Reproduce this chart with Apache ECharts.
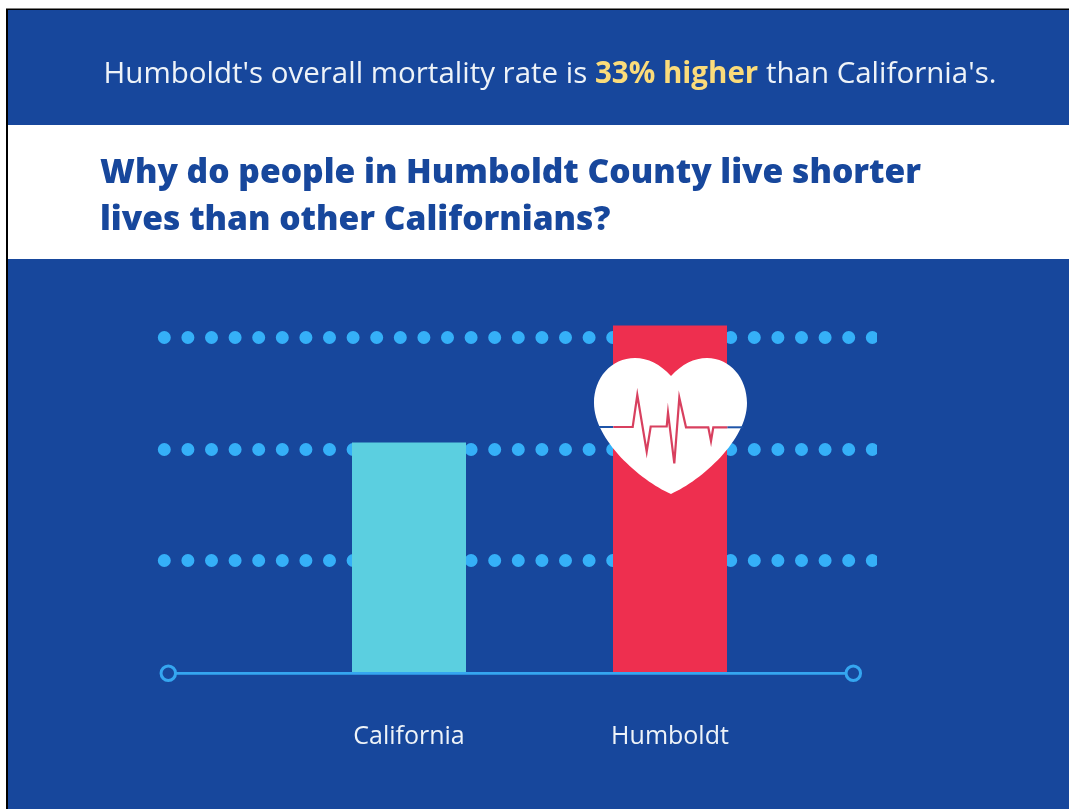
<!DOCTYPE html>
<html>
<head>
<meta charset="utf-8">
<style>html,body{margin:0;padding:0;background:#fff}#c{width:1069px;height:809px}</style>
<script src="https://cdn.jsdelivr.net/npm/echarts@6/dist/echarts.min.js"></script>
</head>
<body>
<div id="c"></div>
<script>
const categories = ['California', 'Humboldt'];
const mortality = [206, 311];
const barColors = ['#5bcfe0', '#ee2f4f'];
const headline = ["Humboldt's overall mortality rate is ", '33% higher', " than California's."];
const question = ['Why do people in Humboldt County live shorter', 'lives than other Californians?'];
const baselineEnds = ['start', 'end'];
const baselineValues = [0, 0];

const BLUE = '#17479c', DOT = '#35b0f8', LINE = '#35a6f0', TEXT = '#eef3f8';
const font = '"Open Sans","Noto Sans",sans-serif';
const ecg = [[613.3,427],[632.7,427],[637.3,395],[646.7,451.7],[650.7,426.5],[666.7,426.5],[668,412.7],[674.3,463.3],[679.3,397.7],[686,427.3],[708.3,427.3],[711,441],[713.3,427.3],[727.3,427.3]];
const heartPath = 'M77 18 C66 6 54 0 41 0 C17 0 0 20 0 45 C0 82 46 122 77 136 C108 122 153 82 153 45 C153 20 136 0 113 0 C100 0 88 6 77 18 Z';

const chart = echarts.init(document.getElementById('c'), null, {renderer:'canvas'});
chart.setOption({
  animation:false,
  backgroundColor:'#fff',
  title:[
    {left:550, textAlign:'center', top:52, padding:0,
     text:headline[0]+'{h|'+headline[1]+'}'+headline[2],
     textStyle:{color:TEXT,fontFamily:font,fontWeight:400,fontSize:29.5,lineHeight:46,
       rich:{h:{color:'#fbdc7a',fontFamily:font,fontWeight:700,fontSize:29.5,lineHeight:46}}}},
    {left:100, top:150, padding:0, text:question.join('\n'),
     textStyle:{color:BLUE,fontFamily:font,fontWeight:800,fontSize:33.6,lineHeight:47}}
  ],
  graphic:[
    {type:'rect',z:-30,shape:{x:6,y:8.5,width:1063,height:801},style:{fill:'#000'},silent:true},
    {type:'rect',z:-29,shape:{x:8,y:10,width:1061,height:799},style:{fill:BLUE},silent:true},
    {type:'rect',z:-28,shape:{x:8,y:125,width:1061,height:134},style:{fill:'#fff'},silent:true},
    {type:'rect',z:1,shape:{x:877,y:325,width:12,height:250},style:{fill:BLUE},silent:true},
    {type:'polyline',z:101,silent:true,shape:{points:[[598.3,427],[613.3,427]]},style:{stroke:'#1f55a8',lineWidth:2,fill:'none'}},
    {type:'polyline',z:101,silent:true,shape:{points:[[727.3,427.3],[743.3,427.3]]},style:{stroke:'#1f55a8',lineWidth:2,fill:'none'}},
    {type:'polyline',z:101,silent:true,shape:{points:ecg},style:{stroke:'#d8405f',lineWidth:2.2,fill:'none',lineJoin:'miter'}}
  ],
  grid:[
    {left:278.5, width:522, top:282, height:390},
    {left:164.3, width:712.7, top:282, height:390},
    {left:168.3, width:685, top:600, height:73.3}
  ],
  xAxis:[
    {gridIndex:0,type:'category',data:categories,axisLine:{show:false},axisTick:{show:false},
     axisLabel:{color:TEXT,fontFamily:font,fontSize:25,margin:52.5}},
    {gridIndex:1,type:'category',data:categories,show:false},
    {gridIndex:2,type:'category',data:baselineEnds,boundaryGap:false,show:false}
  ],
  yAxis:[
    {gridIndex:0,type:'value',min:0,max:350,show:false,splitLine:{show:false}},
    {gridIndex:1,type:'value',min:0,max:350,interval:100,
     axisLine:{show:false},axisTick:{show:false},axisLabel:{show:false},
     splitLine:{show:true,showMinLine:false,showMaxLine:false,
       lineStyle:{color:DOT,width:13,cap:'round',type:[0,23.6]}}},
    {gridIndex:2,type:'value',min:0,max:1,show:false,splitLine:{show:false}}
  ],
  series:[
    {type:'line',xAxisIndex:2,yAxisIndex:2,data:baselineValues,clip:false,z:3,
     symbol:'circle',symbolSize:14.5,showSymbol:true,showAllSymbol:true,
     itemStyle:{color:BLUE,borderColor:LINE,borderWidth:3},
     lineStyle:{color:LINE,width:2.8}},
    {type:'bar',xAxisIndex:0,yAxisIndex:0,barWidth:114,z:4,
     data:mortality.map((v,i)=>({value:v,itemStyle:{color:barColors[i]}}))},
    {type:'custom',coordinateSystem:'none',data:[0],z:50,silent:true,
     renderItem:function(){
       return {type:'path',shape:{pathData:heartPath,x:594,y:358,width:153,height:136,layout:'cover'},style:{fill:'#fff'}};
     }}
  ]
});
</script>
</body>
</html>
